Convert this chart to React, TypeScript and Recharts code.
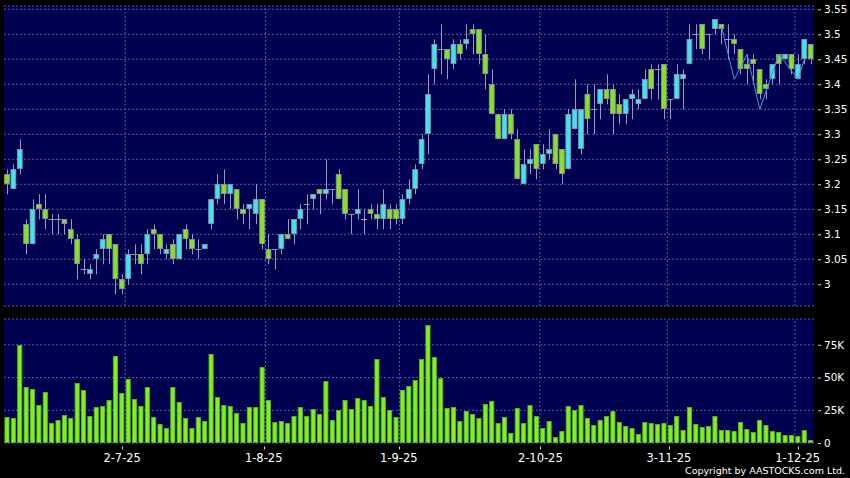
import React from "react";
import { ComposedChart, Bar, Line, XAxis, YAxis, CartesianGrid, ReferenceLine } from "recharts";

const DATES = [
  "4-6-25","5-6-25","6-6-25","9-6-25","10-6-25","11-6-25","12-6-25","13-6-25","16-6-25","17-6-25",
  "18-6-25","19-6-25","20-6-25","23-6-25","24-6-25","25-6-25","26-6-25","27-6-25","30-6-25",
  "2-7-25","3-7-25","4-7-25","7-7-25","8-7-25","9-7-25","10-7-25","11-7-25","14-7-25","15-7-25",
  "16-7-25","17-7-25","18-7-25","21-7-25","22-7-25","23-7-25","24-7-25","25-7-25","28-7-25","29-7-25",
  "30-7-25","31-7-25",
  "1-8-25","4-8-25","5-8-25","6-8-25","7-8-25","8-8-25","11-8-25","12-8-25","13-8-25","14-8-25",
  "15-8-25","18-8-25","19-8-25","20-8-25","21-8-25","22-8-25","25-8-25","26-8-25","27-8-25","28-8-25",
  "29-8-25",
  "1-9-25","2-9-25","3-9-25","4-9-25","5-9-25","8-9-25","9-9-25","10-9-25","11-9-25","12-9-25",
  "15-9-25","16-9-25","17-9-25","18-9-25","19-9-25","22-9-25","23-9-25","24-9-25","25-9-25","26-9-25",
  "29-9-25","30-9-25",
  "2-10-25","3-10-25","6-10-25","8-10-25","9-10-25","10-10-25","13-10-25","14-10-25","15-10-25","16-10-25",
  "17-10-25","20-10-25","21-10-25","22-10-25","23-10-25","24-10-25","27-10-25","28-10-25","30-10-25","31-10-25",
  "3-11-25","4-11-25","5-11-25","6-11-25","7-11-25","10-11-25","11-11-25","12-11-25","13-11-25","14-11-25",
  "17-11-25","18-11-25","19-11-25","20-11-25","21-11-25","24-11-25","25-11-25","26-11-25","27-11-25","28-11-25",
  "1-12-25","2-12-25","3-12-25",
];

const OPEN = [
  3.22,3.19,3.23,3.12,3.08,3.16,3.15,3.13,3.13,3.13, 3.11,3.09,3.03,3.02,3.05,3.07,3.10,3.08,3.01,3.01,
  3.06,3.06,3.06,3.11,3.10,3.06,3.08,3.05,3.11,3.09, 3.07,3.07,3.12,3.17,3.20,3.18,3.19,3.15,3.15,3.14,
  3.17,3.07,3.07,3.07,3.10,3.10,3.13,3.16,3.17,3.19, 3.18,3.19,3.22,3.19,3.14,3.14,3.13,3.15,3.14,3.13,
  3.15,3.15,3.13,3.17,3.19,3.24,3.30,3.43,3.47,3.47, 3.44,3.48,3.48,3.51,3.51,3.46,3.40,3.34,3.29,3.34,
  3.29,3.20,3.24,3.28,3.24,3.26,3.30,3.27,3.23,3.31, 3.27,3.38,3.35,3.36,3.39,3.39,3.36,3.34,3.37,3.36,
  3.37,3.43,3.43,3.44,3.37,3.37,3.41,3.44,3.50,3.52, 3.50,3.51,3.52,3.49,3.49,3.47,3.44,3.45,3.43,3.40,
  3.41,3.46,3.45,3.46,3.41,3.45,3.48,
];
const HIGH = [
  3.23,3.24,3.29,3.13,3.17,3.18,3.18,3.14,3.14,3.13, 3.13,3.10,3.05,3.04,3.07,3.10,3.10,3.08,3.02,3.07,
  3.08,3.08,3.11,3.12,3.10,3.08,3.09,3.10,3.12,3.10, 3.09,3.08,3.17,3.22,3.23,3.20,3.19,3.16,3.16,3.20,
  3.17,3.10,3.07,3.10,3.13,3.13,3.16,3.18,3.18,3.19, 3.25,3.19,3.23,3.19,3.14,3.19,3.15,3.16,3.16,3.19,
  3.16,3.16,3.18,3.21,3.24,3.30,3.42,3.49,3.52,3.47, 3.49,3.49,3.52,3.52,3.51,3.50,3.43,3.34,3.35,3.35,
  3.31,3.27,3.27,3.28,3.28,3.31,3.30,3.27,3.35,3.41, 3.35,3.40,3.40,3.39,3.42,3.40,3.38,3.37,3.39,3.39,
  3.43,3.44,3.44,3.44,3.37,3.44,3.43,3.52,3.52,3.52, 3.50,3.53,3.52,3.52,3.50,3.47,3.46,3.46,3.43,3.41,
  3.44,3.46,3.46,3.46,3.46,3.49,3.48,
];
const LOW = [
  3.18,3.19,3.22,3.06,3.08,3.13,3.11,3.10,3.10,3.10, 3.08,3.01,3.02,3.01,3.02,3.04,3.04,2.98,2.98,3.00,
  3.04,3.02,3.04,3.07,3.06,3.05,3.04,3.05,3.07,3.06, 3.05,3.07,3.11,3.16,3.16,3.15,3.13,3.12,3.11,3.12,
  3.07,3.04,3.03,3.06,3.09,3.08,3.11,3.12,3.15,3.14, 3.17,3.16,3.17,3.13,3.10,3.13,3.10,3.13,3.11,3.11,
  3.11,3.12,3.12,3.16,3.18,3.23,3.26,3.40,3.42,3.41, 3.43,3.45,3.47,3.46,3.44,3.39,3.34,3.29,3.29,3.29,
  3.21,3.20,3.22,3.21,3.23,3.25,3.23,3.20,3.23,3.31, 3.26,3.30,3.30,3.33,3.36,3.30,3.32,3.32,3.33,3.35,
  3.37,3.37,3.37,3.33,3.33,3.37,3.35,3.44,3.47,3.46, 3.45,3.50,3.48,3.45,3.46,3.42,3.40,3.40,3.37,3.37,
  3.40,3.40,3.45,3.42,3.41,3.44,3.44,
];
const CLOSE = [
  3.20,3.23,3.27,3.08,3.15,3.15,3.13,3.13,3.13,3.12, 3.09,3.04,3.03,3.03,3.06,3.09,3.07,3.01,2.99,3.06,
  3.06,3.04,3.10,3.10,3.07,3.07,3.05,3.10,3.09,3.07, 3.07,3.08,3.17,3.20,3.18,3.20,3.15,3.14,3.16,3.17,
  3.08,3.05,3.07,3.10,3.09,3.13,3.15,3.16,3.18,3.18, 3.19,3.19,3.17,3.14,3.14,3.15,3.13,3.14,3.13,3.16,
  3.13,3.13,3.17,3.19,3.23,3.29,3.38,3.48,3.47,3.45, 3.48,3.46,3.49,3.50,3.46,3.42,3.34,3.29,3.34,3.30,
  3.21,3.24,3.25,3.23,3.26,3.27,3.24,3.22,3.34,3.35, 3.35,3.33,3.35,3.39,3.37,3.34,3.34,3.37,3.38,3.37,
  3.41,3.39,3.43,3.35,3.37,3.42,3.42,3.49,3.50,3.47, 3.50,3.53,3.51,3.49,3.48,3.43,3.43,3.44,3.38,3.39,
  3.44,3.44,3.46,3.43,3.44,3.49,3.45,
];
// volume in thousands of shares
const VOLUME_K = [
  19.8,19.1,74.5,42.5,41.2,29.2,38.6,15.5,17.5,21.1, 19.1,46.0,40.7,20.8,27.7,28.2,32.8,66.1,38.1,49.1,
  33.8,28.5,42.7,20.1,14.5,11.7,42.7,31.0,18.8,11.2, 19.8,16.8,67.9,35.3,29.0,28.0,23.1,15.3,27.2,27.5,
  58.2,33.1,16.3,16.8,15.0,20.8,27.5,20.3,26.2,21.9, 47.0,17.5,25.4,33.1,26.2,34.1,32.8,28.2,64.3,35.1,
  25.4,19.8,40.4,43.2,47.8,64.1,90.3,65.3,49.8,26.7, 27.5,17.0,24.2,22.1,19.1,29.5,32.0,15.3,20.1,7.6,
  26.4,15.3,29.0,20.3,11.4,16.5,4.3,9.4,28.5,25.4, 29.0,19.1,14.0,17.8,20.8,24.7,16.3,13.2,11.4,6.9,
  16.3,15.0,14.7,15.5,13.5,20.3,10.2,27.7,14.7,12.5, 13.0,20.3,9.9,9.7,8.9,16.0,10.7,8.4,17.8,13.7,
  8.9,8.1,5.8,5.8,5.6,10.2,2.0,
];

const ZIGZAG_DATES = ["13-11-25","17-11-25","19-11-25","21-11-25","26-11-25","1-12-25","2-12-25"];
const ZIGZAG_VALUES = [3.515, 3.41, 3.46, 3.35, 3.46, 3.41, 3.45];

const TICK_DATES = ["2-7-25","1-8-25","1-9-25","2-10-25","3-11-25","1-12-25"];
const PRICE_TICKS = [3.0,3.05,3.1,3.15,3.2,3.25,3.3,3.35,3.4,3.45,3.5,3.55];
const VOLUME_TICKS = [0,25000,50000,75000];

const rows = DATES.map((d, i) => {
  const zi = ZIGZAG_DATES.indexOf(d);
  return {
    date: d,
    open: OPEN[i],
    high: HIGH[i],
    low: LOW[i],
    close: CLOSE[i],
    range: [LOW[i], HIGH[i]],
    vol: VOLUME_K[i] * 1000,
    zz: zi >= 0 ? ZIGZAG_VALUES[zi] : null,
  };
});

const NAVY = "#000050";
const GRID = "#5a5aa0";
const UP = "#3fe4f0";
const DOWN = "#86e31e";
const OUTLINE = "#8a93a3";
const WICK = "#9a9ab8";
const VOL_FILL = "#80f020";
const VOL_STROKE = "#5cb818";
const FONT = "DejaVu Sans, sans-serif";

function Candle(props: any) {
  const { x, y, width, height, payload } = props;
  if (x == null || y == null || !payload) return null;
  const top = Math.min(y, y + height);
  const h = Math.abs(height);
  const { open, close, high, low } = payload;
  const k = high > low ? h / (high - low) : 0;
  const py = (v: number) => top + (high - v) * k;
  const center = x + width / 2;
  const cx = Math.round(center) + 0.5;
  const bt = Math.round(py(Math.max(open, close)));
  const bb = Math.round(py(Math.min(open, close)));
  const doji = Math.abs(open - close) < 1e-9;
  return (
    <g>
      <line x1={cx} x2={cx} y1={top} y2={top + h} stroke={WICK} strokeWidth={1} />
      {doji ? (
        <line x1={center - 3} x2={center + 3} y1={bt + 0.5} y2={bt + 0.5} stroke={WICK} strokeWidth={1} />
      ) : (
        <rect
          x={center - 2.4}
          y={bt + 0.5}
          width={4.8}
          height={Math.max(bb - bt - 1, 1)}
          fill={close > open ? UP : DOWN}
          stroke={OUTLINE}
          strokeWidth={0.9}
        />
      )}
    </g>
  );
}

function VolBar(props: any) {
  const { x, y, width, height } = props;
  if (x == null || y == null || !height) return null;
  const t = Math.round(Math.min(y, y + height));
  const b = Math.round(Math.max(y, y + height));
  return (
    <rect
      x={x + 0.95}
      y={t + 0.5}
      width={width - 1.9}
      height={Math.max(b - t - 1, 0.5)}
      fill={VOL_FILL}
      stroke={VOL_STROKE}
      strokeWidth={0.9}
    />
  );
}

const fmtPrice = (v: number) => String(Number(v.toFixed(2)));
const fmtVol = (v: number) => (v === 0 ? "0" : `${Math.round(v / 1000)}K`);

function PriceTick(props: any) {
  const { x, y, payload } = props;
  return (
    <g>
      <line x1={x + 4} x2={x + 7} y1={y + 0.5} y2={y + 0.5} stroke="#d0d0d0" />
      <text x={x + 10} y={y} dy="0.36em" fill="#ffffff" fontSize={10.5} fontFamily={FONT}>
        {fmtPrice(payload.value)}
      </text>
    </g>
  );
}

function VolTick(props: any) {
  const { x, y, payload } = props;
  return (
    <g>
      <line x1={x + 4} x2={x + 7} y1={y + 0.5} y2={y + 0.5} stroke="#d0d0d0" />
      <text x={x + 10} y={y} dy="0.36em" fill="#ffffff" fontSize={10.5} fontFamily={FONT}>
        {fmtVol(payload.value)}
      </text>
    </g>
  );
}

function DateTick(props: any) {
  const { x, y, payload } = props;
  const tx = x - 6.2 + 0.00866 * (x - 128.4);
  return (
    <g>
      <line x1={Math.round(tx) + 0.5} x2={Math.round(tx) + 0.5} y1={y + 3.5} y2={y + 6.5} stroke="#d0d0d0" />
      <text x={tx} y={y + 19} textAnchor="middle" fill="#ffffff" fontSize={11.5} fontFamily={FONT}>
        {payload.value}
      </text>
    </g>
  );
}

export default function App() {
  return (
    <div style={{ position: "absolute", left: 0, top: 0, width: 850, height: 478, background: "#000", overflow: "hidden" }}>
      <div style={{ position: "absolute", left: 0, top: 0 }}>
        <ComposedChart width={850} height={310} data={rows} margin={{ top: 6, right: 0, bottom: 4, left: 4 }} barCategoryGap={0}>
          <CartesianGrid fill={NAVY} stroke={GRID} strokeDasharray="2 2" vertical={false} />
          <XAxis dataKey="date" hide height={0} />
          <YAxis
            orientation="right"
            width={36}
            domain={[2.9566, 3.5566]}
            allowDataOverflow
            ticks={PRICE_TICKS}
            interval={0}
            axisLine={false}
            tickLine={false}
            tickSize={0}
            tickMargin={0}
            tick={(p: any) => <PriceTick {...p} />}
          />
          {TICK_DATES.map((d) => (
            <ReferenceLine key={d} x={d} position="start" stroke={GRID} strokeDasharray="2 2" />
          ))}
          <Bar dataKey="range" shape={(p: any) => <Candle {...p} />} isAnimationActive={false} />
          <Line dataKey="zz" stroke="#3b9be0" strokeWidth={1} dot={false} connectNulls isAnimationActive={false} />
        </ComposedChart>
      </div>
      <div style={{ position: "absolute", left: 0, top: 310 }}>
        <ComposedChart width={850} height={168} data={rows} margin={{ top: 9, right: 0, bottom: 0, left: 4 }} barCategoryGap={0}>
          <CartesianGrid fill={NAVY} stroke={GRID} strokeDasharray="2 2" vertical={false} />
          <XAxis
            dataKey="date"
            height={35}
            ticks={TICK_DATES}
            interval={0}
            axisLine={false}
            tickLine={false}
            tickSize={0}
            tickMargin={0}
            tick={(p: any) => <DateTick {...p} />}
          />
          <YAxis
            orientation="right"
            width={36}
            domain={[0, 94700]}
            allowDataOverflow
            ticks={VOLUME_TICKS}
            interval={0}
            axisLine={false}
            tickLine={false}
            tickSize={0}
            tickMargin={0}
            tick={(p: any) => <VolTick {...p} />}
          />
          {TICK_DATES.map((d) => (
            <ReferenceLine key={d} x={d} position="start" stroke={GRID} strokeDasharray="2 2" />
          ))}
          <Bar dataKey="vol" shape={(p: any) => <VolBar {...p} />} isAnimationActive={false} />
        </ComposedChart>
      </div>
      <svg width={850} height={478} style={{ position: "absolute", left: 0, top: 0, pointerEvents: "none" }}>
        <text x={845} y={474} textAnchor="end" fill="#ffffff" fontSize={9.5} fontFamily={FONT}>
          Copyright by AASTOCKS.com Ltd.
        </text>
      </svg>
    </div>
  );
}
